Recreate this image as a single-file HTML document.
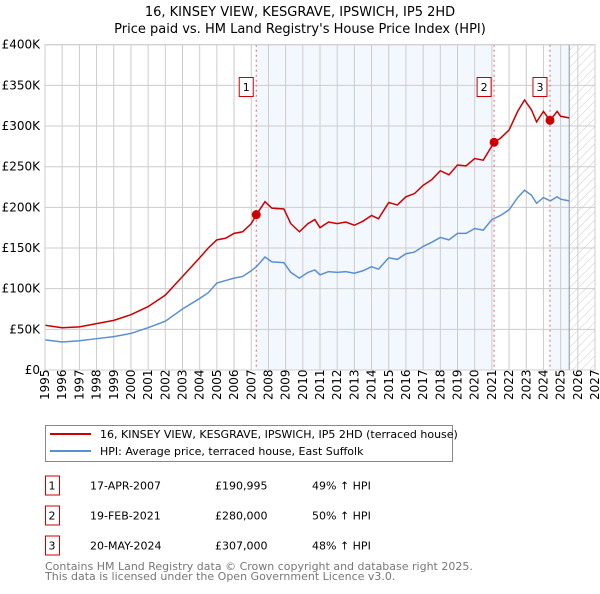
<!DOCTYPE html>
<html><head><meta charset="utf-8"><style>
body{margin:0;background:#fff;font-family:"DejaVu Sans","Liberation Sans",sans-serif;}
svg text{font-family:"DejaVu Sans","Liberation Sans",sans-serif;}
</style></head><body>
<svg id="c" width="600" height="590" viewBox="0 0 600 590">
<defs><pattern id="hatch" width="6" height="6" patternUnits="userSpaceOnUse" patternTransform="rotate(45)"><line x1="0" y1="0" x2="0" y2="6" stroke="#ccc" stroke-width="1"/></pattern></defs>
<text x="300" y="16" text-anchor="middle" font-size="13">16, KINSEY VIEW, KESGRAVE, IPSWICH, IP5 2HD</text>
<text x="300" y="33" text-anchor="middle" font-size="13">Price paid vs. HM Land Registry's House Price Index (HPI)</text>
<g id="plot"></g>
<g>
<rect x="45.5" y="425.5" width="407" height="36" fill="#fff" stroke="#888"/>
<line x1="50" y1="434" x2="91" y2="434" stroke="#cc0000" stroke-width="2"/>
<text x="100" y="438" font-size="11">16, KINSEY VIEW, KESGRAVE, IPSWICH, IP5 2HD (terraced house)</text>
<line x1="50" y1="451" x2="91" y2="451" stroke="#5b8fd4" stroke-width="2"/>
<text x="100" y="455" font-size="11">HPI: Average price, terraced house, East Suffolk</text>
</g>
<g id="table" font-size="11"></g>
<text x="45" y="570" font-size="11" fill="#777">Contains HM Land Registry data © Crown copyright and database right 2025.</text>
<text x="45" y="580" font-size="11" fill="#777">This data is licensed under the Open Government Licence v3.0.</text>
</svg>
<script>
const hpiYears=[1995,1996,1997,1998,1999,2000,2001,2002,2003,2004,2004.5,2005,2005.5,2006,2006.5,2007,2007.3,2007.8,2008.2,2008.9,2009.3,2009.8,2010.3,2010.7,2011,2011.5,2012,2012.5,2013,2013.5,2014,2014.4,2015,2015.5,2016,2016.5,2017,2017.5,2018,2018.5,2019,2019.5,2020,2020.5,2021,2021.5,2022,2022.5,2022.9,2023.3,2023.6,2024,2024.4,2024.8,2025,2025.5];
const hpiValues=[37,34.5,36,38.5,41,45,52,60,75,88,95,107,110,113,115,122,127,139,133,132,120,113,120,123,117,121,120,121,119,122,127,124,138,136,143,145,152,157,163,160,168,168,174,172,185,190,197,212,221,215,205,212,208,213,210,208];
const priceYears=[1995,1996,1997,1998,1999,2000,2001,2002,2003,2004,2004.5,2005,2005.5,2006,2006.5,2007,2007.3,2007.8,2008.2,2008.9,2009.3,2009.8,2010.3,2010.7,2011,2011.5,2012,2012.5,2013,2013.5,2014,2014.4,2015,2015.5,2016,2016.5,2017,2017.5,2018,2018.5,2019,2019.5,2020,2020.5,2021.13,2021.5,2022,2022.5,2022.9,2023.3,2023.6,2024,2024.38,2024.8,2025,2025.5];
const priceValues=[55,52,53,57,61,68,78,92,115,138,150,160,162,168,170,180,191,207,199,198,180,170,180,185,175,182,180,182,178,183,190,186,206,203,213,217,227,234,245,240,252,251,260,258,280,285,295,318,332,320,305,318,307,318,312,310];
const saleLabels=["1","2","3"];
const saleYears=[2007.29,2021.13,2024.38];
const saleValues=[190.995,280,307];
const saleDates=["17-APR-2007","19-FEB-2021","20-MAY-2024"];
const salePrices=["£190,995","£280,000","£307,000"];
const saleHpi=["49% ↑ HPI","50% ↑ HPI","48% ↑ HPI"];
const yTicks=[0,50,100,150,200,250,300,350,400];
const yTickLabels=["£0","£50K","£100K","£150K","£200K","£250K","£300K","£350K","£400K"];
const dataEnd=2025.5;

const X0=45,X1=595,Y0=370,Y1=44.7;
const x=y=>X0+(y-1995)/(2027-1995)*(X1-X0);
const yv=v=>Y0-v/400*(Y0-Y1);
const NS="http://www.w3.org/2000/svg";
const plot=document.getElementById('plot');
function mk(t,a,p){const e=document.createElementNS(NS,t);for(const k in a)e.setAttribute(k,a[k]);(p||plot).appendChild(e);return e;}
let bg=mk('rect',{x:X0,y:Y1,width:X1-X0,height:Y0-Y1,fill:'#fff'});

let s1=mk('rect',{x:x(saleYears[0]),y:Y1,width:x(saleYears[1])-x(saleYears[0]),height:Y0-Y1,fill:'#f3f7fe'});

let s2=mk('rect',{x:x(saleYears[2]),y:Y1,width:x(dataEnd)-x(saleYears[2]),height:Y0-Y1,fill:'#f3f7fe'});

let ht=mk('rect',{x:x(dataEnd),y:Y1,width:X1-x(dataEnd),height:Y0-Y1,fill:'url(#hatch)'});

for(let yr=1995;yr<=2027;yr++){
 let g=mk('line',{x1:x(yr),x2:x(yr),y1:Y1,y2:Y0,stroke:'#ccc','stroke-width':1});
 
 let t=mk('text',{x:0,y:0,'font-size':12,transform:`translate(${x(yr)+4},400) rotate(-90)`});
 t.textContent=yr;
 
}
yTicks.forEach((v,i)=>{
 let g=mk('line',{x1:X0,x2:X1,y1:yv(v),y2:yv(v),stroke:'#ccc','stroke-width':1});
 
 let t=mk('text',{x:40,y:yv(v)+4,'font-size':12,'text-anchor':'end'});
 t.textContent=yTickLabels[i];
 
});
let dl=mk('line',{x1:x(dataEnd),x2:x(dataEnd),y1:Y1,y2:Y0,stroke:'#8a93a3','stroke-width':1});

let hp=mk('polyline',{points:hpiYears.map((d,i)=>x(d)+','+yv(hpiValues[i])).join(' '),fill:'none',stroke:'#5b8fd4','stroke-width':1.5});

let pp=mk('polyline',{points:priceYears.map((d,i)=>x(d)+','+yv(priceValues[i])).join(' '),fill:'none',stroke:'#cc0000','stroke-width':1.5});

saleYears.forEach((d,i)=>{
 let l=mk('line',{x1:x(d),x2:x(d),y1:Y1,y2:Y0,stroke:'#e06666','stroke-width':1,'stroke-dasharray':'2,3'});
 
 let c=mk('circle',{cx:x(d),cy:yv(saleValues[i]),r:4.5,fill:'#cc0000'});
 
 let b=mk('rect',{x:x(d)-17,y:77.5,width:14,height:19,fill:'#fff',stroke:'#cc0000'});
 
 let t=mk('text',{x:x(d)-10,y:91,'font-size':11,'text-anchor':'middle'});t.textContent=saleLabels[i];
 
});
let fr=mk('rect',{x:X0,y:Y1,width:X1-X0,height:Y0-Y1,fill:'none',stroke:'#ccc'});

const tb=document.getElementById('table');
saleLabels.forEach((s,i)=>{
 const cy=485.5+i*30;
 let b=mk('rect',{x:45.5,y:cy-9.5,width:14,height:19,fill:'#fff',stroke:'#cc0000'},tb);
 
 const cols=[[52,s,'middle'],[90,saleDates[i],'start'],[215,salePrices[i],'start'],[312,saleHpi[i],'start']];
 cols.forEach(([cx,txt,an],j)=>{
  let t=mk('text',{x:cx,y:cy+4,'text-anchor':an},tb);t.textContent=txt;
  
  
 });
});
</script>
</body></html>
